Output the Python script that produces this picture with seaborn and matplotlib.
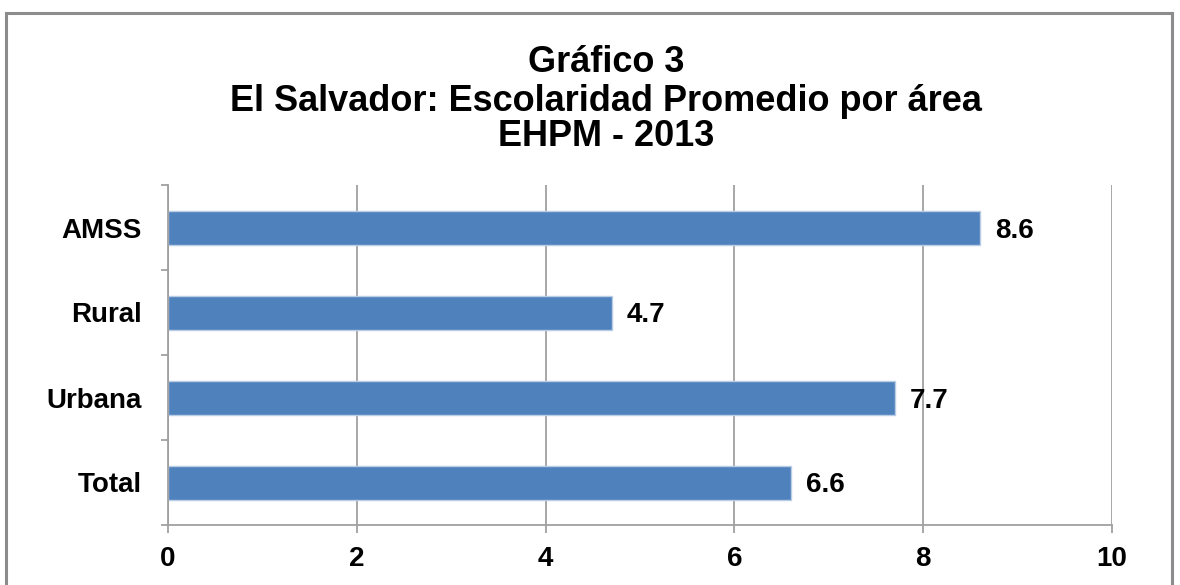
import matplotlib
matplotlib.use("Agg")
import matplotlib.pyplot as plt
import seaborn as sns
import pandas as pd
from matplotlib.patches import Rectangle

areas = ["AMSS", "Rural", "Urbana", "Total"]
escolaridad = [8.6, 4.7, 7.7, 6.6]
xticks = [0, 2, 4, 6, 8, 10]

title_lines = ["Gráfico 3",
               "El Salvador: Escolaridad Promedio por área",
               "EHPM - 2013"]

sns.set_theme(style="white")
plt.rcParams["font.family"] = ["Liberation Sans", "DejaVu Sans"]
plt.rcParams["font.weight"] = "bold"

df = pd.DataFrame({"area": areas, "valor": escolaridad})

fig = plt.figure(figsize=(11.8, 5.85), dpi=100)
ax = fig.add_axes([168 / 1180, 1 - 525 / 585, (1112 - 168) / 1180, (525 - 185) / 585])

sns.barplot(data=df, x="valor", y="area", orient="h", color="#4F81BD",
            width=0.4, saturation=1, edgecolor="#B9CDE5", linewidth=1, ax=ax)

ax.set_xlim(0, 10)
ax.set_ylim(len(areas) - 0.5, -0.5)
ax.set_xticks(xticks)
ax.set_xticklabels([str(t) for t in xticks])
ax.set_xlabel("")
ax.set_ylabel("")

grid_col = "#A0A0A0"
ax.xaxis.grid(True, color=grid_col, linewidth=1.3)
ax.yaxis.grid(False)
ax.set_axisbelow(True)
for s in ["top", "right"]:
    ax.spines[s].set_visible(False)
for s in ["left", "bottom"]:
    ax.spines[s].set_color(grid_col)
    ax.spines[s].set_linewidth(1.3)

ax.tick_params(axis="x", which="major", length=6, width=1.3, color=grid_col,
               direction="out", bottom=True, labelsize=20, pad=9)
ax.tick_params(axis="y", which="major", length=0, labelsize=20, pad=19)
ax.set_yticks([i + 0.5 for i in range(-1, len(areas))], minor=True)
ax.tick_params(axis="y", which="minor", length=5, width=1.3, color=grid_col,
               direction="out", left=True)
for lab in ax.get_xticklabels() + ax.get_yticklabels():
    lab.set_fontweight("bold")
    lab.set_color("black")

for c in ax.containers:
    txts = ax.bar_label(c, labels=[f"{v:.1f}" for v in escolaridad], padding=11,
                        fontsize=20, fontweight="bold", color="black")
    for t in txts:
        t.set_va("center_baseline")

ys = [63, 101, 136]
for t, y in zip(title_lines, ys):
    fig.text(606 / 1180, 1 - y / 585, t, ha="center", va="center",
             fontsize=26, fontweight="bold", color="black")

fig.patches.append(Rectangle((6 / 1180, -0.1), (1172 - 6) / 1180, 1.1 - 13 / 585,
                             transform=fig.transFigure, fill=False,
                             edgecolor="#8C8C8C", linewidth=2.2))

fig.savefig("out.png", dpi=100)
